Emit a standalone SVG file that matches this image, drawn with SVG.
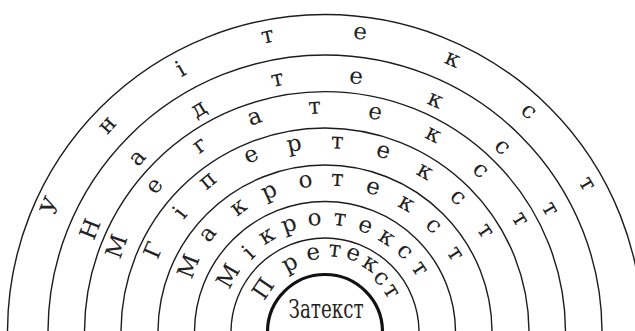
<svg xmlns="http://www.w3.org/2000/svg" width="635" height="331" viewBox="0 0 635 331">
<style>
.ring{fill:none;stroke:#1c1c1c;stroke-width:1.4}
.core{fill:none;stroke:#111;stroke-width:3.2}
.lbl{font-family:'DejaVu Serif','Liberation Serif',serif;font-size:23px;fill:#222}
.zl{font-family:'DejaVu Serif','Liberation Serif',serif;font-size:26px;fill:#222}
</style>
<rect width="635" height="331" fill="#fff"/>
<g id="unitext">
<path class="ring" d="M7.5,332 A317.5,317.5 0 0 1 642.5,332"/>
<text class="lbl" x="54.34 107.19 181.0 262.76 352.84 443.32 519.6 578.0" y="216.56 135.2 77.41 44.11 38.57 62.58 112.09 181.79" rotate="-66.9 -47.91 -29.49 -12.2 5.42 23.71 41.52 59.3">Унітекст</text>
</g>
<g id="nadtext">
<path class="ring" d="M48,332 A277,277 0 0 1 602,332"/>
<text class="lbl" x="93.67 138.0 196.36 272.6 348.66 425.88 492.96 541.08" y="241.25 167.59 118.52 87.31 83.12 103.25 147.52 206.75" rotate="-68.58 -48.68 -31.07 -12.09 5.43 23.8 42.32 59.9">Надтекст</text>
</g>
<g id="megatext">
<path class="ring" d="M84.5,332 A240.5,240.5 0 0 1 565.5,332"/>
<text class="lbl" x="120.05 155.43 198.99 250.63 308.71 367.2 423.74 471.31 510.94" y="259.94 195.53 154.4 126.01 114.36 117.66 137.36 170.85 217.24" rotate="-70.63 -51.16 -35.36 -19.85 -4.28 11.14 26.9 42.24 58.32">Мегатекст</text>
</g>
<g id="hypertext">
<path class="ring" d="M121,332 A204,204 0 0 1 529,332"/>
<text class="lbl" x="157.53 183.46 206.19 247.76 288.3 330.86 375.06 415.23 448.65 476.21" y="260.12 220.29 190.78 164.17 152.4 148.64 155.83 173.66 197.84 229.37" rotate="-66.77 -51.71 -40.08 -24.72 -11.55 1.83 15.86 29.68 42.66 55.83">Гіпертекст</text>
</g>
<g id="macrotext">
<path class="ring" d="M158,332 A167,167 0 0 1 492,332"/>
<text class="lbl" x="191.49 209.11 237.05 265.16 299.79 330.85 364.87 396.72 424.13 446.06" y="280.06 243.62 217.04 200.58 188.45 185.67 192.12 205.69 226.11 252.09" rotate="-68.74 -52.68 -37.42 -24.48 -9.96 2.29 15.91 29.59 43.11 56.57">Макротекст</text>
</g>
<g id="microtext">
<path class="ring" d="M194.5,332 A130.5,130.5 0 0 1 455.5,332"/>
<text class="lbl" x="228.95 251.07 264.34 284.24 308.33 332.65 356.65 377.0 395.58 410.44" y="289.98 260.49 245.41 233.42 226.07 224.87 229.89 239.36 251.72 267.1" rotate="-60.3 -44 -31.7 -19.1 -5.6 7.1 20.2 32.6 44.3 55.8">Мікротекст</text>
</g>
<g id="pretext">
<path class="ring" d="M231,332 A94,94 0 0 1 419,332"/>
<text class="lbl" x="263.96 286.52 307.44 327.69 344.87 360.76 371.93 382.2" y="301.25 272.95 260.67 256.08 257.66 265.51 278.1 289.3" rotate="-55.7 -28 -9.5 6.3 19.1 32.9 45.5 57.8">Претекст</text>
</g>
<g id="zatext">
<path class="core" d="M267.5,332 A57.5,57.5 0 0 1 382.5,332"/>
<text class="zl" x="288.5" y="318" textLength="75" lengthAdjust="spacingAndGlyphs">Затекст</text>
</g>
<g id="connectors"/>
</svg>
